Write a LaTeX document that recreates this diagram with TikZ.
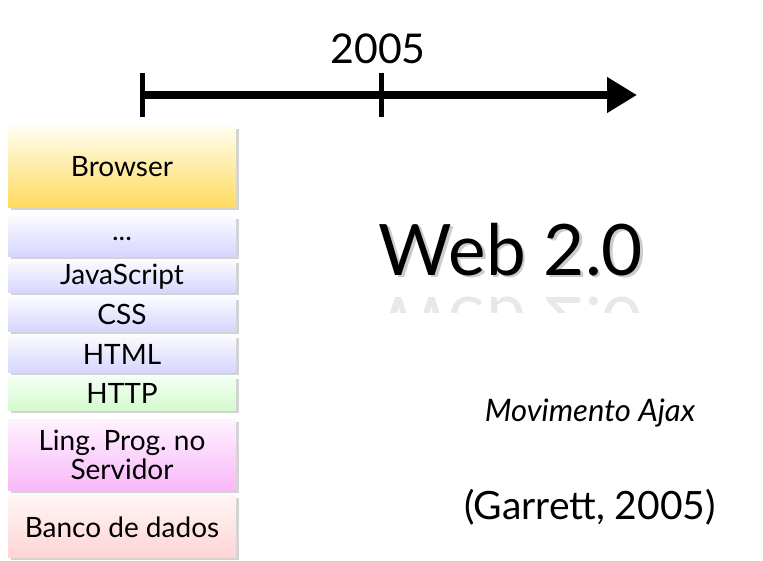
\documentclass[tikz,border=0pt]{standalone}
\usepackage{fontspec}
\setmainfont{Lato}
\frenchspacing
\usetikzlibrary{arrows.meta,positioning,shadows}
\definecolor{browsertop}{RGB}{255,253,240}
\definecolor{browserbot}{RGB}{255,219,95}
\definecolor{clienttop}{RGB}{250,250,255}
\definecolor{clientbot}{RGB}{214,214,255}
\definecolor{httptop}{RGB}{244,255,244}
\definecolor{httpbot}{RGB}{212,250,206}
\definecolor{servertop}{RGB}{255,242,255}
\definecolor{serverbot}{RGB}{248,184,248}
\definecolor{dbtop}{RGB}{255,245,245}
\definecolor{dbbot}{RGB}{255,212,212}
\newcommand{\comsombra}[1]{\makebox[0pt][l]{\kern2.5pt\raisebox{-2.5pt}{\color{black!20}#1}}#1}
\tikzset{
	x=1pt, y=-1pt,
	layer/.style={draw=none, minimum width=228pt, inner sep=0pt, align=center,
		font=\fontsize{28}{29}\selectfont,
		drop shadow={shadow xshift=2.5pt, shadow yshift=-2.5pt, opacity=0.35}},
	browser/.style={layer, top color=browsertop, bottom color=browserbot},
	client/.style={layer, top color=clienttop, bottom color=clientbot},
	http/.style={layer, top color=httptop, bottom color=httpbot},
	server/.style={layer, top color=servertop, bottom color=serverbot},
	db/.style={layer, top color=dbtop, bottom color=dbbot},
	tick/.style={line width=5pt},
	timeline/.style={line width=8pt, -{Triangle[length=30pt,width=34pt]}},
	title/.style={font=\fontsize{71}{73}\selectfont, anchor=base}
}

\begin{document}
\begin{tikzpicture}
	\useasboundingbox (0,0) rectangle (763,560);
	% camadas
	\node[browser, minimum height=81pt] (1) at (122,166.5) {Browser};
	\node[client, minimum height=40pt, below=9pt of 1] (2) {\raisebox{-8pt}{...}};
	\node[client, minimum height=32pt, below=4pt of 2] (3) {JavaScript};
	\node[client, minimum height=34pt, below=4pt of 3] (4) {CSS};
	\node[client, minimum height=37pt, below=4pt of 4] (5) {HTML};
	\node[http, minimum height=34pt, below=3pt of 5] (6) {HTTP};
	\node[server, minimum height=71pt, below=9pt of 6] (7) {Ling. Prog. no\\Servidor};
	\node[db, minimum height=62pt, below=5pt of 7] (8) {Banco de dados};

	% linha do tempo
	\coordinate (t0) at (142,95);
	\coordinate (t1) at (381,95);
	\coordinate (t2) at (637,95);
	\draw[timeline] (t0) -- (t2);
	\draw[tick] ([yshift=22pt]t0) -- ([yshift=-22pt]t0);
	\draw[tick] ([yshift=22pt]t1) -- ([yshift=-22pt]t1);
	\node[font=\fontsize{41}{43}\selectfont, anchor=base] (ano) at (378,63) {2005};

	% titulo
	\node[title] (web) at (511,275) {\comsombra{Web 2.0}};
	\begin{scope}
		\clip (380,294) rectangle (645,312);
		\node[title, yscale=-1, text=black!9] (reflexo) at (511,297) {Web 2.0};
	\end{scope}

	\node[font=\fontsize{31}{33}\selectfont\itshape] (ajax) at (590,413) {Movimento Ajax};
	\node[font=\fontsize{39}{41}\selectfont] (ref) at (590,507) {(Garrett, 2005)};
\end{tikzpicture}
\end{document}
